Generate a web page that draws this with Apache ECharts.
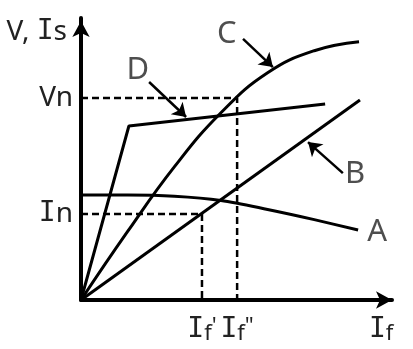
<!DOCTYPE html>
<html><head><meta charset="utf-8">
<script src="https://cdn.jsdelivr.net/npm/echarts@6/dist/echarts.min.js"></script>
<style>html,body{margin:0;padding:0;background:#fff}#c{width:413px;height:349px}</style>
</head><body><div id="c"></div>
<script>
// curves (x: field current If, y: V / Is), arbitrary units 0..10
const curveA = [[0,3.72],[1.5,3.72],[3,3.68],[4.5,3.53],[6,3.21],[7.5,2.85],[8.91,2.48]];
const curveB = [[0,0],[8.97,7.09]];
const curveC = [[0,0],[1.5,2.43],[3,4.72],[4.5,6.64],[6,8.06],[7.5,8.84],[8.94,9.16]];
const curveD = [[0,0],[1.54,6.17],[7.85,6.95]];
// reference levels
const Vn = 7.16, In = 3.05;
const IfP = 3.89, IfPP = 5.02, IfEnd = 9.65;
// curve letters and their pointer arrows
const curveNames = ['A','B','C','D'];
const namePoints = [[9.52,2.42],[8.81,4.45],[4.69,9.42],[1.83,8.15]];
const arrowStarts = [[8.42,4.5],[5.21,9.26],[2.19,7.73]];
const arrowEnds = [[7.3,5.6],[6.17,8.26],[3.38,6.49]];

const TXT = '#222';
const FONT = 'Noto Sans';
const rich = {
  n: {fontFamily: FONT, fontSize: 28, color: TXT},
  i: {fontFamily: 'DejaVu Sans Mono', fontSize: 28, color: TXT},
  f: {fontFamily: FONT, fontSize: 22, color: TXT, padding: [8,0,0,0]},
  p: {fontFamily: FONT, fontSize: 22, color: TXT, padding: [0,0,6,0]}
};
function near(a,b){return Math.abs(a-b)<1e-6;}

const chart = echarts.init(document.getElementById('c'), null, {renderer:'canvas'});
const lineStyle = {color:'#000', width:3};
const curveSeries = [curveA, curveB, curveC, curveD].map((d,k)=>({
  type:'line', data:d, showSymbol:false, symbol:'none',
  smooth: k===0 ? 0.3 : (k===2 ? 0.45 : false),
  lineStyle: lineStyle, z: 3, silent:true
}));
chart.setOption({
  backgroundColor:'#fff',
  animation:false,
  grid:{left:81, right:21, top:18, bottom:49},
  xAxis:{type:'value', min:0, max:10,
    axisLine:{show:true, onZero:false, symbol:['none','arrow'], symbolSize:[13,16], lineStyle:{color:'#000', width:4}},
    axisTick:{show:false}, splitLine:{show:false},
    axisLabel:{customValues:[IfP, IfPP, IfEnd], margin:15, rich:rich,
      formatter:function(v){
        if(near(v,IfP)) return "{i|I}{f|f}{p|'}";
        if(near(v,IfPP)) return "{i|I}{f|f}{p|\"}";
        return "{i|I}{f|f}";
      }}
  },
  yAxis:{type:'value', min:0, max:10,
    name:'{n|V, }{i|I}{n|s}', nameLocation:'end', nameGap:-14,
    nameTextStyle:{align:'right', verticalAlign:'middle', padding:[0,14,0,0], rich:rich},
    axisLine:{show:true, onZero:false, symbol:['none','arrow'], symbolSize:[13,16], symbolOffset:[0,-3], lineStyle:{color:'#000', width:4}},
    axisTick:{show:false}, splitLine:{show:false},
    axisLabel:{customValues:[In, Vn], margin:8, rich:rich,
      formatter:function(v){ return near(v,Vn) ? '{n|Vn}' : '{i|I}{n|n}'; }}
  },
  series: curveSeries.concat([
    {type:'line', data:[[0,Vn],[IfPP,Vn],[IfPP,0]], showSymbol:false, symbol:'none', silent:true,
      lineStyle:{color:'#000', width:2.5, type:[7,4]}, z:2},
    {type:'line', data:[[0,In],[IfP,In],[IfP,0]], showSymbol:false, symbol:'none', silent:true,
      lineStyle:{color:'#000', width:2.5, type:[7,4]}, z:2},
    {type:'lines', coordinateSystem:'cartesian2d', silent:true,
      symbol:['none','arrow'], symbolSize:13,
      lineStyle:{color:'#000', width:2.5, opacity:1},
      data: arrowStarts.map((s,k)=>({coords:[s, arrowEnds[k]]})), z:4},
    {type:'scatter', symbolSize:1, itemStyle:{color:'transparent'}, silent:true,
      data: curveNames.map((nm,k)=>({name:nm, value:namePoints[k]})),
      label:{show:true, position:'inside', formatter:'{b}', fontFamily:FONT, fontSize:31, color:TXT}, z:5}
  ])
});
</script></body></html>
